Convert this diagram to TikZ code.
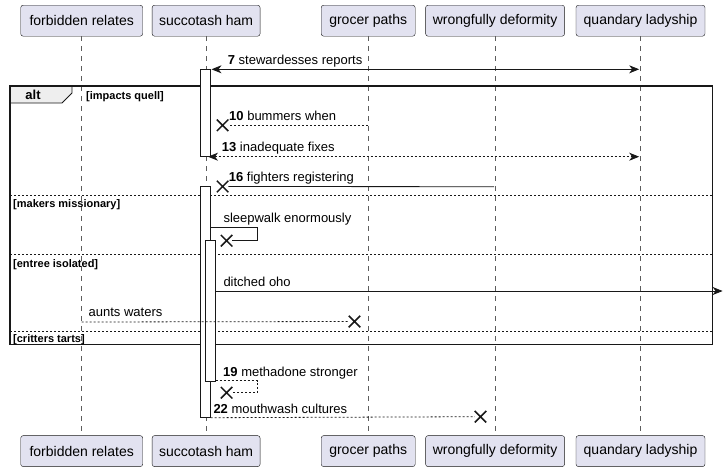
\documentclass[tikz,border=0pt]{standalone}
\usepackage{fontspec}
\setmainfont{Liberation Sans}
\usetikzlibrary{positioning}
\usetikzlibrary{arrows.meta}
\usetikzlibrary{shapes.misc}
\definecolor{actfill}{HTML}{E2E2F0}
\definecolor{ink}{HTML}{181818}
\definecolor{tabfill}{HTML}{EEEEEE}

\begin{document}
\begin{tikzpicture}[x=1pt,y=-1pt,>={Stealth[length=10pt,width=8pt,inset=3pt]}]
  \tikzset{Actor/.style={rectangle, draw=ink, fill=actfill, rounded corners=2.5pt, minimum height=31pt, inner sep=0pt, font=\fontsize{14}{16}\selectfont}};
  \tikzset{Life/.style={draw=ink!70, line width=0.5pt, dash pattern=on 5pt off 5pt}};
  \tikzset{Bar/.style={draw=ink, fill=white, line width=0.8pt}};
  \tikzset{Msg/.style={draw=ink, line width=0.8pt}};
  \tikzset{Ret/.style={Msg, dash pattern=on 2pt off 2pt}};
  \tikzset{Kill/.style={cross out, draw=ink, line width=1.5pt, minimum size=10pt, inner sep=0pt}};
  \tikzset{Lbl/.style={anchor=base west, inner sep=0pt, font=\fontsize{13}{15}\selectfont}};
  \tikzset{Cond/.style={anchor=base west, inner sep=0pt, font=\fontsize{11}{13}\selectfont\bfseries}};
  \useasboundingbox (0,0) rectangle (723,472);
  % participants, top and bottom
  \node[Actor, minimum width=122pt] (a) at (81.7,20.7) {forbidden relates};
  \node[Actor, minimum width=108pt, right=9pt of a] (b) {succotash ham};
  \node[Actor, minimum width=94pt, right=60.7pt of b] (c) {grocer paths};
  \node[Actor, minimum width=139pt, right=10pt of c] (d) {wrongfully deformity};
  \node[Actor, minimum width=129pt, right=11pt of d] (e) {quandary ladyship};
  \node[Actor, minimum width=122pt, below=399pt of a] (a2) {forbidden relates};
  \node[Actor, minimum width=108pt, below=399pt of b] (b2) {succotash ham};
  \node[Actor, minimum width=94pt, below=399pt of c] (c2) {grocer paths};
  \node[Actor, minimum width=139pt, below=399pt of d] (d2) {wrongfully deformity};
  \node[Actor, minimum width=129pt, below=399pt of e] (e2) {quandary ladyship};
  \draw[Life] (a) -- (a2);
  \draw[Life] (b) -- (b2);
  \draw[Life] (c) -- (c2);
  \draw[Life] (d) -- (d2);
  \draw[Life] (e) -- (e2);
  % alt frame
  \draw[draw=ink, fill=tabfill, line width=0.8pt] (10,86) -- (72,86) -- (72,93) -- (62,103) -- (10,103) -- cycle;
  \draw[draw=ink, line width=1.5pt] (10,86) rectangle (712.7,344.5);
  \node[anchor=base, inner sep=0pt, font=\fontsize{13}{15}\selectfont\bfseries] (alt) at (33,99) {alt};
  \node[Cond] (g1) at (86,99) {[impacts quell]};
  \draw[Ret, line width=0.6pt] (10,195.3) -- (712.7,195.3);
  \node[Cond] (g2) at (13,207) {[makers missionary]};
  \draw[Ret, line width=0.6pt] (10,254.5) -- (712.7,254.5);
  \node[Cond] (g3) at (13,267) {[entree isolated]};
  \draw[Ret, line width=0.6pt] (10,331.3) -- (712.7,331.3);
  \node[Cond] (g4) at (13,342) {[critters tarts]};
  % activations
  \draw[Bar] (200.7,69.3) rectangle (210.7,156.7);
  \draw[Bar] (200.7,186.7) rectangle (210.7,417.7);
  \draw[Bar] (205.7,240.7) rectangle (215.7,381);
  % messages
  \coordinate (m7a) at (211.5,69.3);
  \coordinate (m7b) at (639.2,69.3);
  \draw[Msg, <->] (m7a) -- (m7b);
  \node[Lbl] (t7) at (227.7,64.5) {\textbf{7} stewardesses reports};
  \coordinate (m10) at (367.7,125.3);
  \node[Kill] (x10) at (222.6,125.3) {};
  \draw[Ret] (m10) -- (x10);
  \node[Lbl] (t10) at (229,120.5) {\textbf{10} bummers when};
  \coordinate (m13a) at (208,156.7);
  \coordinate (m13b) at (639.2,156.7);
  \draw[Ret, <->] (m13a) -- (m13b);
  \node[Lbl] (t13) at (221.7,151.5) {\textbf{13} inadequate fixes};
  \coordinate (m16) at (494.2,186.7);
  \node[Kill] (x16) at (222.6,186.5) {};
  \draw[Msg] (m16) -- (x16);
  \node[Lbl] (t16) at (228.7,181.8) {\textbf{16} fighters registering};
  \coordinate (sw) at (210.7,227.3);
  \node[Kill] (xsw) at (226.6,240.7) {};
  \draw[Msg] (sw) -- ++(46.6,0) |- (xsw);
  \node[Lbl] (tsw) at (223.3,222.7) {sleepwalk enormously};
  \coordinate (do1) at (215.7,291);
  \coordinate (do2) at (722.6,291);
  \draw[Msg, ->] (do1) -- (do2);
  \node[Lbl] (tdo) at (223.3,286.3) {ditched oho};
  \coordinate (aw) at (81.7,322);
  \node[Kill] (xaw) at (354.5,321.5) {};
  \draw[Ret] (aw) -- (xaw);
  \node[Lbl] (taw) at (88.5,316.8) {aunts waters};
  \coordinate (md) at (215.7,380.5);
  \node[Kill] (xmd) at (226.6,392.7) {};
  \draw[Ret] (md) -- ++(41.6,0) |- (xmd);
  \node[Lbl] (tmd) at (223,376.8) {\textbf{19} methadone stronger};
  \coordinate (mw) at (210.7,417.7);
  \node[Kill] (xmw) at (480.5,416.7) {};
  \draw[Ret] (mw) -- (xmw);
  \node[Lbl] (tmw) at (213.3,413.5) {\textbf{22} mouthwash cultures};
\end{tikzpicture}
\end{document}
